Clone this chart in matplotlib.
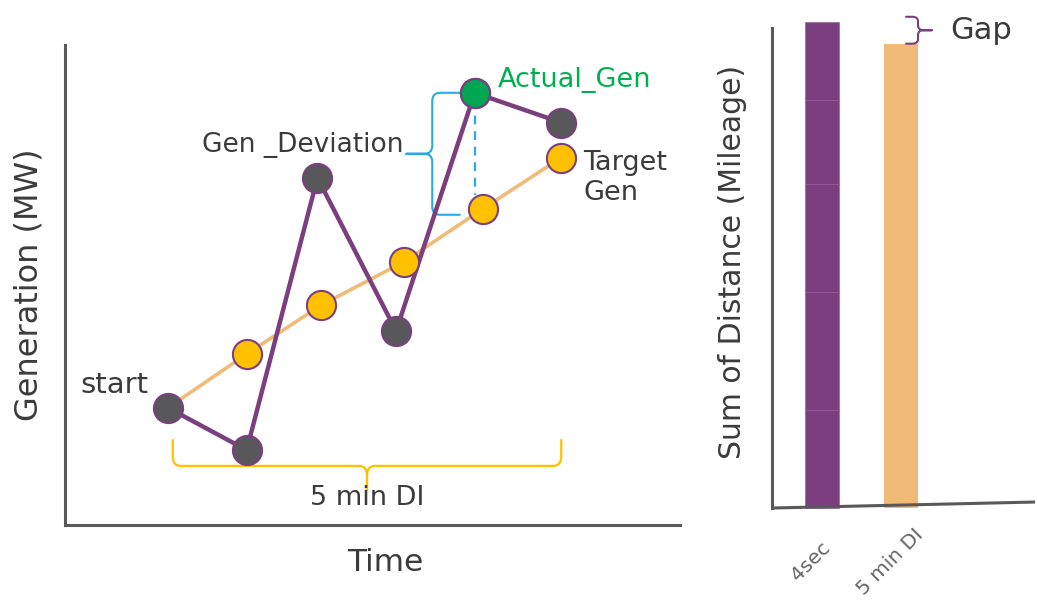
import matplotlib.pyplot as plt
from matplotlib.path import Path
from matplotlib.patches import PathPatch
from matplotlib.transforms import ScaledTranslation

# data
time_actual = [1, 2, 2.9, 3.9, 4.9, 6]
gen_actual = [2.44, 1.56, 7.23, 4.04, 9.0, 8.38]
time_target = [1, 2, 2.95, 4, 5, 6]
gen_target = [2.44, 3.56, 4.58, 5.48, 6.58, 7.65]

bar_labels = ['4sec', '5 min DI']
purple_segments = [20.4, 24.6, 22.5, 17.5, 16.3]   # 4sec bar is a stack of pieces
orange_total = 96.7

purple = '#7B3F7F'
orange = '#F0BB78'
yellow = '#FFC000'
dark = '#58585A'
green = '#00B050'
blue = '#29ABE2'
txt = '#3B3B3B'
spine_col = '#595959'


def brace(ax, verts, codes, color, lw=1.5):
    p = PathPatch(Path(verts, codes), fill=False, edgecolor=color, lw=lw,
                  clip_on=False, capstyle='round', joinstyle='round')
    ax.add_patch(p)


fig = plt.figure(figsize=(10.37, 6.01), dpi=100)

# ---------------- left panel ----------------
ax = fig.add_axes([0.0627, 0.1265, 0.593, 0.799])
ax.set_xlim(-0.31, 7.51)
ax.set_ylim(0, 10)
for s in ['top', 'right']:
    ax.spines[s].set_visible(False)
for s in ['left', 'bottom']:
    ax.spines[s].set_color(spine_col)
    ax.spines[s].set_linewidth(2.2)
ax.set_xticks([])
ax.set_yticks([])
ax.set_xlabel('Time', fontsize=22.5, color=txt, va='center')
ax.xaxis.set_label_coords(0.52, -0.079)
ax.set_ylabel('Generation (MW)', fontsize=23, color=txt, va='center')
ax.yaxis.set_label_coords(-0.0585, 0.5)

ax.plot(time_target, gen_target, color=orange, lw=2.6, zorder=2)
ax.plot(time_actual, gen_actual, color=purple, lw=3.2, zorder=3)
ax.plot(time_target[1:], gen_target[1:], 'o', ms=21, mfc=yellow, mec=purple,
        mew=1.5, zorder=4)
ax.plot(time_actual, gen_actual, 'o', ms=21, mfc=dark, mec=purple, mew=1.5, zorder=5)
ax.plot(time_actual[4], gen_actual[4], 'o', ms=21, mfc='#00A651', mec=purple,
        mew=1.5, zorder=6)

# dashed deviation line
ax.plot([time_actual[4], time_actual[4]], [gen_actual[4] - 0.15, gen_target[4] + 0.3],
        color=blue, lw=1.6, ls=(0, (4, 3)), zorder=1)

# deviation brace
xb = time_actual[4] - 0.54
top, bot = gen_actual[4], gen_target[4] - 0.12
mid = (top + bot) / 2
rx, ry = 0.1, 0.17
arm, tip = 0.38, xb - 0.33
verts = [(xb + arm, top), (xb + rx, top), (xb, top), (xb, top - ry),
         (xb, mid + ry), (xb, mid), (xb - rx, mid), (tip, mid),
         (xb - rx, mid), (xb, mid), (xb, mid - ry), (xb, bot + ry),
         (xb, bot), (xb + rx, bot), (xb + arm - 0.03, bot)]
codes = [Path.MOVETO, Path.LINETO, Path.CURVE3, Path.CURVE3,
         Path.LINETO, Path.CURVE3, Path.CURVE3, Path.LINETO,
         Path.LINETO, Path.CURVE3, Path.CURVE3, Path.LINETO,
         Path.CURVE3, Path.CURVE3, Path.LINETO]
brace(ax, verts, codes, blue)

# 5 min DI brace
x0, x1 = time_target[0] + 0.06, time_target[-1]
xm = (x0 + x1) / 2
yb, yend, ytip = 1.23, 1.77, 0.73
rx, ry = 0.1, 0.2
verts = [(x0, yend), (x0, yb + ry), (x0, yb), (x0 + rx, yb),
         (xm - rx, yb), (xm, yb), (xm, yb - ry), (xm, ytip),
         (xm, yb - ry), (xm, yb), (xm + rx, yb), (x1 - rx, yb),
         (x1, yb), (x1, yb + ry), (x1, yend)]
codes = [Path.MOVETO, Path.LINETO, Path.CURVE3, Path.CURVE3,
         Path.LINETO, Path.CURVE3, Path.CURVE3, Path.LINETO,
         Path.LINETO, Path.CURVE3, Path.CURVE3, Path.LINETO,
         Path.CURVE3, Path.CURVE3, Path.LINETO]
brace(ax, verts, codes, yellow, lw=1.6)

ax.text(time_actual[0] - 0.25, gen_actual[0] + 0.48, 'start', fontsize=21,
        color=txt, ha='right', va='center')
ax.text(tip - 0.04, mid + 0.18, 'Gen _Deviation', fontsize=19, color=txt,
        ha='right', va='center')
ax.text(time_actual[4] + 0.29, gen_actual[4] + 0.27, 'Actual_Gen', fontsize=19.5,
        color=green, ha='left', va='center')
ax.text(time_target[-1] + 0.28, gen_target[-1] - 0.42, 'Target\nGen', fontsize=19.5,
        color=txt, ha='left', va='center', linespacing=1.2)
ax.text(xm, 0.56, '5 min DI', fontsize=19.5, color=txt, ha='center', va='center')

# ---------------- right panel ----------------
bx = fig.add_axes([0.7445, 0.1547, 0.2536, 0.799])
bx.set_xlim(-0.633, 2.696)
bx.set_ylim(0, 100)
for s in ['top', 'right', 'bottom']:
    bx.spines[s].set_visible(False)
bx.spines['left'].set_color(spine_col)
bx.spines['left'].set_linewidth(2.2)
# slightly tilted base line
bx.plot([0, 1], [0, 0.0125], transform=bx.transAxes, color=spine_col, lw=2.2,
        clip_on=False, solid_capstyle='butt')
bx.set_yticks([])
bx.set_ylabel('Sum of Distance (Mileage)', fontsize=21.5, color=txt, va='center')
bx.yaxis.set_label_coords(-0.152, 0.5125)

bottom = 0
for seg in purple_segments:
    bx.bar(0, seg, bottom=bottom, width=0.44, color=purple, edgecolor='#8E5A92',
           lw=0.4, clip_on=False)
    bottom += seg
bx.bar(1, orange_total, width=0.44, color=orange, clip_on=False)

bx.set_xticks([0, 1], bar_labels)
bx.tick_params(axis='x', length=0, pad=0)
off = ScaledTranslation(-11 / 100, -54 / 100, fig.dpi_scale_trans)
for lab in bx.get_xticklabels():
    lab.set_rotation(45)
    lab.set_rotation_mode('anchor')
    lab.set_ha('center')
    lab.set_va('center')
    lab.set_fontsize(14.5)
    lab.set_color('#666666')
    lab.set_transform(lab.get_transform() + off)

# gap brace
gt, gb = bottom + 1.0, orange_total
gm = (gt + gb) / 2
gx0, gx1, gtip = 1.063, 1.215, 1.39
rx, ry = 0.07, 1.0
verts = [(gx0, gt), (gx1 - rx, gt), (gx1, gt), (gx1, gt - ry),
         (gx1, gm + ry), (gx1, gm), (gx1 + rx, gm), (gtip, gm),
         (gx1 + rx, gm), (gx1, gm), (gx1, gm - ry), (gx1, gb + ry),
         (gx1, gb), (gx1 - rx, gb), (gx0, gb)]
codes = [Path.MOVETO, Path.LINETO, Path.CURVE3, Path.CURVE3,
         Path.LINETO, Path.CURVE3, Path.CURVE3, Path.LINETO,
         Path.LINETO, Path.CURVE3, Path.CURVE3, Path.LINETO,
         Path.CURVE3, Path.CURVE3, Path.LINETO]
brace(bx, verts, codes, purple)
bx.text(1.62, gm, 'Gap', fontsize=22, color=txt, ha='left', va='center')

fig.savefig('out.png', dpi=100)
